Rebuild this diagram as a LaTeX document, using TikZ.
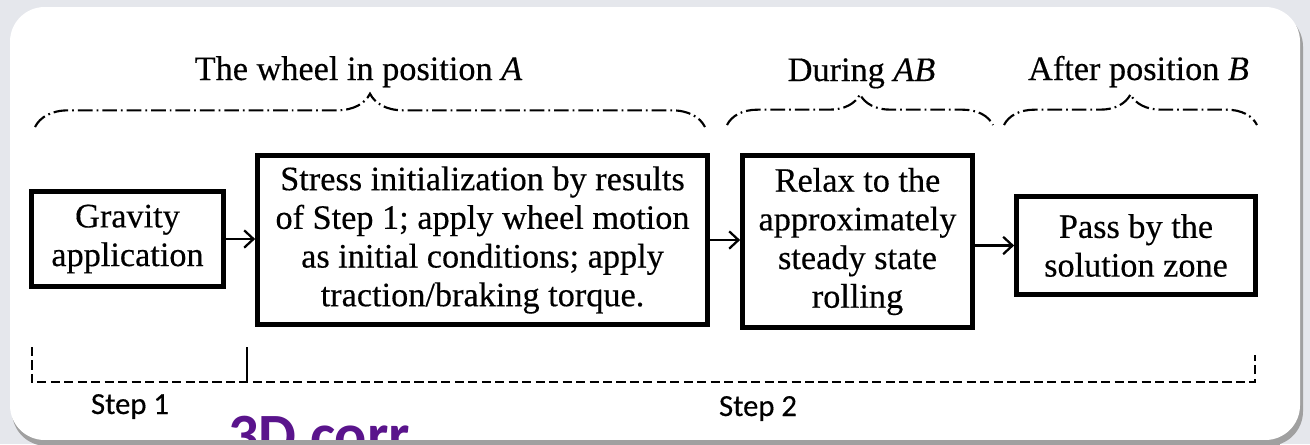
\documentclass[tikz,border=0pt]{standalone}
\usepackage{fontspec}
\setmainfont{Liberation Serif}[FakeBold=0.35]
\newfontfamily\stepfont{Carlito}[FakeBold=0.3]
\newfontfamily\purpfont{Carlito}
\usetikzlibrary{decorations.pathreplacing,arrows.meta}
\definecolor{bgout}{RGB}{229,231,236}
\definecolor{shadowc}{RGB}{160,160,160}
\definecolor{purp}{RGB}{90,20,140}
\tikzset{
  box/.style={draw, line width=3.5pt, align=center, inner sep=0pt,
              font=\fontsize{25.7}{29}\selectfont},
  hdr/.style={anchor=base, inner sep=0pt, font=\fontsize{25.7}{29}\selectfont},
  steplabel/.style={anchor=base, inner sep=0pt, font=\stepfont\fontsize{23}{26}\selectfont},
  curly/.style={line width=1.6pt, decorate, decoration={brace, amplitude=#1},
                dash pattern=on 11pt off 3pt on 1.3pt off 3pt},
  arr/.style={line width=1.7pt, -{Straight Barb[length=7pt,width=13pt,line width=1.7pt]}},
  dashline/.style={line width=1.6pt, dash pattern=on 6.8pt off 3.3pt},
}
\begin{document}
\begin{tikzpicture}[x=0.75pt,y=-0.75pt]
\useasboundingbox (0,0) rectangle (1310,444);
\clip (0,0) rectangle (1310,444);
\fill[bgout] (0,0) rectangle (1310,444);
\fill[shadowc, rounded corners=26pt] (12,12) rectangle (1303,446);
\fill[white, rounded corners=26pt] (10,7) rectangle (1300,440);

% purple text (behind bottom shadow strip)
\node[anchor=base west, inner sep=0pt, text=purp,
      font=\purpfont\bfseries\fontsize{45}{50}\selectfont] (purptext) at (228,455) {3D corr};
\fill[shadowc] (40,440) rectangle (1280,446);

% boxes
\node[box, minimum width=144pt, minimum height=71.25pt] (g) at (127.5,239) {Gravity\\application};
\node[box, minimum width=337.5pt, minimum height=126.75pt] (s) at (482.5,240)
  {Stress initialization by results\\of Step 1; apply wheel motion\\as initial conditions; apply\\traction/braking torque.};
\node[box, minimum width=172.5pt, minimum height=129pt] (r) at (857.5,241.5)
  {Relax to the\\approximately\\steady state\\rolling};
\node[box, minimum width=179.25pt, minimum height=73.5pt] (p) at (1136,245.5)
  {Pass by the\\solution zone};

% arrows
\draw[arr] (g.east) -- (s.west |- g.east);
\draw[arr] (s.east) -- (r.west |- s.east);
\draw[arr] (r.east |- p.west) -- (p.west);

% braces
\coordinate (b1l) at (35,127);
\coordinate (b1r) at (705,127);
\coordinate (b2l) at (727,125);
\coordinate (b2r) at (993,125);
\coordinate (b3l) at (1004,125);
\coordinate (b3r) at (1257,125);
\draw[curly=25pt] (b1l) -- (b1r);
\draw[curly=23pt] (b2l) -- (b2r);
\draw[curly=23pt] (b3l) -- (b3r);

% headings
\node[hdr] (h1) at (358.5,80) {The wheel in position \textit{A}};
\node[hdr] (h2) at (861.5,81) {During \textit{AB}};
\node[hdr] (h3) at (1138.5,80) {After position \textit{B}};

% step bracket
\coordinate (d1) at (32,347);
\coordinate (d2) at (32,382);
\coordinate (d3) at (1255,382);
\coordinate (d4) at (1255,355);
\coordinate (m1) at (247,347);
\coordinate (m2) at (247,382);
\draw[dashline] (d1) -- (d2) -- (d3) -- (d4);
\draw[line width=1.6pt] (m1) -- (m2);

\node[steplabel] (st1) at (130,414) {Step 1};
\node[steplabel] (st2) at (758,416) {Step 2};
\end{tikzpicture}
\end{document}
